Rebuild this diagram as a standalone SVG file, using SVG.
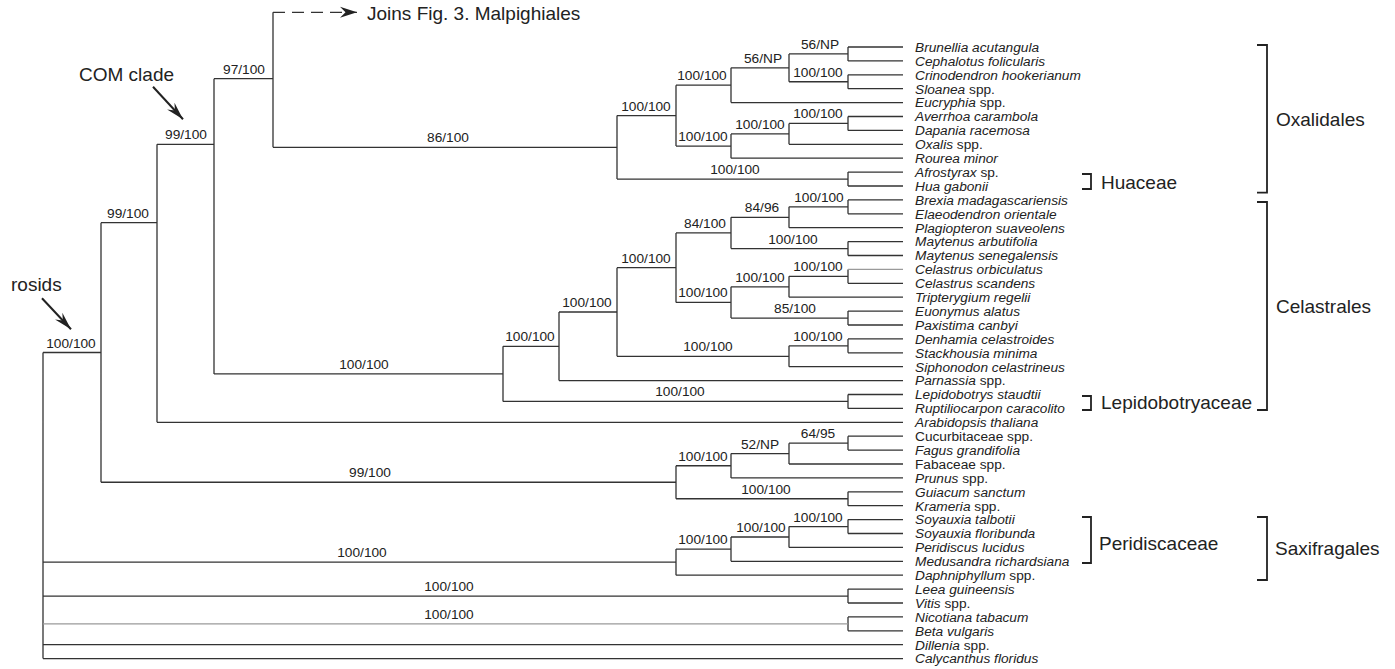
<svg xmlns="http://www.w3.org/2000/svg" width="1395" height="669" viewBox="0 0 1395 669">
<style>
.br{fill:none;stroke:#333;stroke-width:1.3}
.lt{fill:none;stroke:#9a9a9a;stroke-width:1.2}
.bk{fill:none;stroke:#222;stroke-width:1.8}
text{font-family:"Liberation Sans",Arial,sans-serif;fill:#222}
.lf{font-size:13.7px;font-style:italic}
.lf tspan.r{font-style:normal}
.sp{font-size:13.7px;text-anchor:middle}
.gp{font-size:19px}
.ar{stroke:#222;stroke-width:2;fill:none}
</style>
<defs>
<marker id="ah" viewBox="-17 -6 18 12" refX="0" refY="0" markerWidth="18" markerHeight="12" markerUnits="userSpaceOnUse" orient="auto">
<path d="M0,0 L-17,-5.5 L-11.5,0 L-17,5.5 Z" fill="#222"/>
</marker>
<marker id="ah2" viewBox="-18 -6 19 12" refX="0" refY="0" markerWidth="19" markerHeight="12" markerUnits="userSpaceOnUse" orient="auto">
<path d="M0,0 L-18,-5 L-12,0 L-18,5 Z" fill="#222"/>
</marker>
</defs>
<rect width="1395" height="669" fill="#fff"/>
<g id="connectors">
<path class="br" d="M43,352.5V658.6 M43,352.5H101 M101,222.7V482.25 M101,222.7H157 M101,482.25H676 M157,144.3V422.3 M157,144.3H214 M157,422.3H903 M214,78.7V373.9 M214,78.7H273 M214,373.9H503 M273,12.3V147.3 M273,147.3H617"/>
<path class="br" d="M617,115.6V179.05 M617,115.6H676 M617,179.05H848 M676,85.2V146.05 M676,85.2H731 M676,146.05H731 M731,67.85V102.6 M731,67.85H789 M731,102.6H903 M789,53.95V81.75 M789,53.95H848 M789,81.75H848 M848,47V60.9 M848,47H903 M848,60.9H903 M848,74.8V88.7 M848,74.8H903 M848,88.7H903 M731,133.9V158.2 M731,133.9H789 M731,158.2H903 M789,123.45V144.3 M789,123.45H848 M789,144.3H903 M848,116.5V130.4 M848,116.5H903 M848,130.4H903 M848,172.1V186 M848,172.1H903 M848,186H903"/>
<path class="br" d="M503,346.3V401.45 M503,346.3H559 M503,401.45H848 M559,312V380.6 M559,312H617 M559,380.6H903 M617,267.7V356.3 M617,267.7H676 M617,356.3H789 M676,232.9V302.4 M676,232.9H731 M676,302.4H731 M731,217.3V248.55 M731,217.3H789 M731,248.55H848 M789,206.85V227.7 M789,206.85H848 M789,227.7H903 M848,199.9V213.8 M848,199.9H903 M848,213.8H903 M848,241.6V255.5 M848,241.6H903 M848,255.5H903 M731,286.8V318.05 M731,286.8H789 M731,318.05H848 M789,276.35V297.2 M789,276.35H848 M789,297.2H903 M848,269.4V283.3 M848,283.3H903 M848,311.1V325 M848,311.1H903 M848,325H903 M789,345.85V366.7 M789,345.85H848 M789,366.7H903 M848,338.9V352.8 M848,338.9H903 M848,352.8H903 M848,394.5V408.4 M848,394.5H903 M848,408.4H903"/>
<path class="lt" d="M848,269.4H903"/>
<path class="br" d="M676,465.75V498.75 M676,465.75H731 M676,498.75H848 M731,453.6V477.9 M731,453.6H789 M731,477.9H903 M789,443.15V464 M789,443.15H848 M789,464H903 M848,436.2V450.1 M848,436.2H903 M848,450.1H903 M848,491.8V505.7 M848,491.8H903 M848,505.7H903"/>
<path class="br" d="M43,562.2H676 M676,549.1V575.2 M676,549.1H731 M676,575.2H903 M731,537V561.3 M731,537H789 M731,561.3H903 M789,526.55V547.4 M789,526.55H848 M789,547.4H903 M848,519.6V533.5 M848,519.6H903 M848,533.5H903"/>
<path class="br" d="M43,596.05H848 M848,589.1V603 M848,589.1H903 M848,603H903 M848,616.9V630.8 M848,616.9H903 M848,630.8H903 M43,644.7H903 M43,658.6H903"/>
<path class="lt" d="M43,623.85H848"/>
<path class="br" d="M273,12.3H357" stroke-dasharray="12 7" marker-end="url(#ah)"/>
<path class="ar" d="M153,86.7L183,119.3" marker-end="url(#ah2)"/>
<path class="ar" d="M42,298.3L71,329.3" marker-end="url(#ah2)"/>
</g>
<g id="support">
<text class="sp" x="71" y="347.5">100/100</text>
<text class="sp" x="128" y="217.7">99/100</text>
<text class="sp" x="370" y="477">99/100</text>
<text class="sp" x="186" y="139.3">99/100</text>
<text class="sp" x="244" y="73.7">97/100</text>
<text class="sp" x="364" y="369">100/100</text>
<text class="sp" x="448" y="142.3">86/100</text>
<text class="sp" x="646" y="110.6">100/100</text>
<text class="sp" x="735" y="174">100/100</text>
<text class="sp" x="702" y="80.2">100/100</text>
<text class="sp" x="703" y="141">100/100</text>
<text class="sp" x="763" y="62.8">56/NP</text>
<text class="sp" x="820" y="49">56/NP</text>
<text class="sp" x="818" y="76.7">100/100</text>
<text class="sp" x="760" y="128.9">100/100</text>
<text class="sp" x="818" y="118.4">100/100</text>
<text class="sp" x="530" y="341.3">100/100</text>
<text class="sp" x="680" y="396.4">100/100</text>
<text class="sp" x="587" y="307">100/100</text>
<text class="sp" x="646" y="262.7">100/100</text>
<text class="sp" x="708" y="351.3">100/100</text>
<text class="sp" x="818" y="340.8">100/100</text>
<text class="sp" x="705" y="227.9">84/100</text>
<text class="sp" x="703" y="297.4">100/100</text>
<text class="sp" x="762" y="212.3">84/96</text>
<text class="sp" x="793" y="243.5">100/100</text>
<text class="sp" x="819" y="201.8">100/100</text>
<text class="sp" x="760" y="281.8">100/100</text>
<text class="sp" x="795" y="313">85/100</text>
<text class="sp" x="818" y="271.3">100/100</text>
<text class="sp" x="703" y="460.7">100/100</text>
<text class="sp" x="766" y="493.7">100/100</text>
<text class="sp" x="760" y="448.6">52/NP</text>
<text class="sp" x="818" y="438.1">64/95</text>
<text class="sp" x="362" y="557.2">100/100</text>
<text class="sp" x="703" y="544.1">100/100</text>
<text class="sp" x="761" y="532">100/100</text>
<text class="sp" x="818" y="521.5">100/100</text>
<text class="sp" x="449" y="591">100/100</text>
<text class="sp" x="449" y="618.8">100/100</text>
</g>
<g id="annotations">
<text class="gp" x="367" y="19.5">Joins Fig. 3. Malpighiales</text>
<text class="gp" x="79" y="80.5">COM clade</text>
<text class="gp" x="11" y="290.5">rosids</text>
</g>
<g id="taxa">
<text id="t0" class="lf" x="915" y="51.8">Brunellia acutangula</text>
<text id="t1" class="lf" x="915" y="65.7">Cephalotus folicularis</text>
<text id="t2" class="lf" x="915" y="79.6">Crinodendron hookerianum</text>
<text id="t3" class="lf" x="915" y="93.5">Sloanea<tspan class="r"> spp.</tspan></text>
<text id="t4" class="lf" x="915" y="107.4">Eucryphia<tspan class="r"> spp.</tspan></text>
<text id="t5" class="lf" x="915" y="121.3">Averrhoa carambola</text>
<text id="t6" class="lf" x="915" y="135.2">Dapania racemosa</text>
<text id="t7" class="lf" x="915" y="149.1">Oxalis<tspan class="r"> spp.</tspan></text>
<text id="t8" class="lf" x="915" y="163">Rourea minor</text>
<text id="t9" class="lf" x="915" y="176.9">Afrostyrax<tspan class="r"> sp.</tspan></text>
<text id="t10" class="lf" x="915" y="190.8">Hua gabonii</text>
<text id="t11" class="lf" x="915" y="204.7">Brexia madagascariensis</text>
<text id="t12" class="lf" x="915" y="218.6">Elaeodendron orientale</text>
<text id="t13" class="lf" x="915" y="232.5">Plagiopteron suaveolens</text>
<text id="t14" class="lf" x="915" y="246.4">Maytenus arbutifolia</text>
<text id="t15" class="lf" x="915" y="260.3">Maytenus senegalensis</text>
<text id="t16" class="lf" x="915" y="274.2">Celastrus orbiculatus</text>
<text id="t17" class="lf" x="915" y="288.1">Celastrus scandens</text>
<text id="t18" class="lf" x="915" y="302">Tripterygium regelii</text>
<text id="t19" class="lf" x="915" y="315.9">Euonymus alatus</text>
<text id="t20" class="lf" x="915" y="329.8">Paxistima canbyi</text>
<text id="t21" class="lf" x="915" y="343.7">Denhamia celastroides</text>
<text id="t22" class="lf" x="915" y="357.6">Stackhousia minima</text>
<text id="t23" class="lf" x="915" y="371.5">Siphonodon celastrineus</text>
<text id="t24" class="lf" x="915" y="385.4">Parnassia<tspan class="r"> spp.</tspan></text>
<text id="t25" class="lf" x="915" y="399.3">Lepidobotrys staudtii</text>
<text id="t26" class="lf" x="915" y="413.2">Ruptiliocarpon caracolito</text>
<text id="t27" class="lf" x="915" y="427.1">Arabidopsis thaliana</text>
<text id="t28" class="lf" x="915" y="441"><tspan class="r">Cucurbitaceae spp.</tspan></text>
<text id="t29" class="lf" x="915" y="454.9">Fagus grandifolia</text>
<text id="t30" class="lf" x="915" y="468.8"><tspan class="r">Fabaceae spp.</tspan></text>
<text id="t31" class="lf" x="915" y="482.7">Prunus<tspan class="r"> spp.</tspan></text>
<text id="t32" class="lf" x="915" y="496.6">Guiacum sanctum</text>
<text id="t33" class="lf" x="915" y="510.5">Krameria<tspan class="r"> spp.</tspan></text>
<text id="t34" class="lf" x="915" y="524.4">Soyauxia talbotii</text>
<text id="t35" class="lf" x="915" y="538.3">Soyauxia floribunda</text>
<text id="t36" class="lf" x="915" y="552.2">Peridiscus lucidus</text>
<text id="t37" class="lf" x="915" y="566.1">Medusandra richardsiana</text>
<text id="t38" class="lf" x="915" y="580">Daphniphyllum<tspan class="r"> spp.</tspan></text>
<text id="t39" class="lf" x="915" y="593.9">Leea guineensis</text>
<text id="t40" class="lf" x="915" y="607.8">Vitis<tspan class="r"> spp.</tspan></text>
<text id="t41" class="lf" x="915" y="621.7">Nicotiana tabacum</text>
<text id="t42" class="lf" x="915" y="635.6">Beta vulgaris</text>
<text id="t43" class="lf" x="915" y="649.5">Dillenia<tspan class="r"> spp.</tspan></text>
<text id="t44" class="lf" x="915" y="663.4">Calycanthus floridus</text>
</g>
<g id="groups">
<g id="g-oxalidales"><path class="bk" d="M1257,45H1267V192.7H1257"/><text class="gp" x="1276" y="126">Oxalidales</text></g>
<g id="g-huaceae"><path class="bk" d="M1082,174H1091V189H1082"/><text class="gp" x="1101" y="189">Huaceae</text></g>
<g id="g-celastrales"><path class="bk" d="M1257,202H1267V410H1257"/><text class="gp" x="1276" y="313">Celastrales</text></g>
<g id="g-lepido"><path class="bk" d="M1082,396H1091V410H1082"/><text class="gp" x="1101" y="409">Lepidobotryaceae</text></g>
<g id="g-peridiscaceae"><path class="bk" d="M1082,517H1091V563H1082"/><text class="gp" x="1099" y="550">Peridiscaceae</text></g>
<g id="g-saxifragales"><path class="bk" d="M1257,517H1267V580H1257"/><text class="gp" x="1275" y="555">Saxifragales</text></g>
</g>
</svg>
